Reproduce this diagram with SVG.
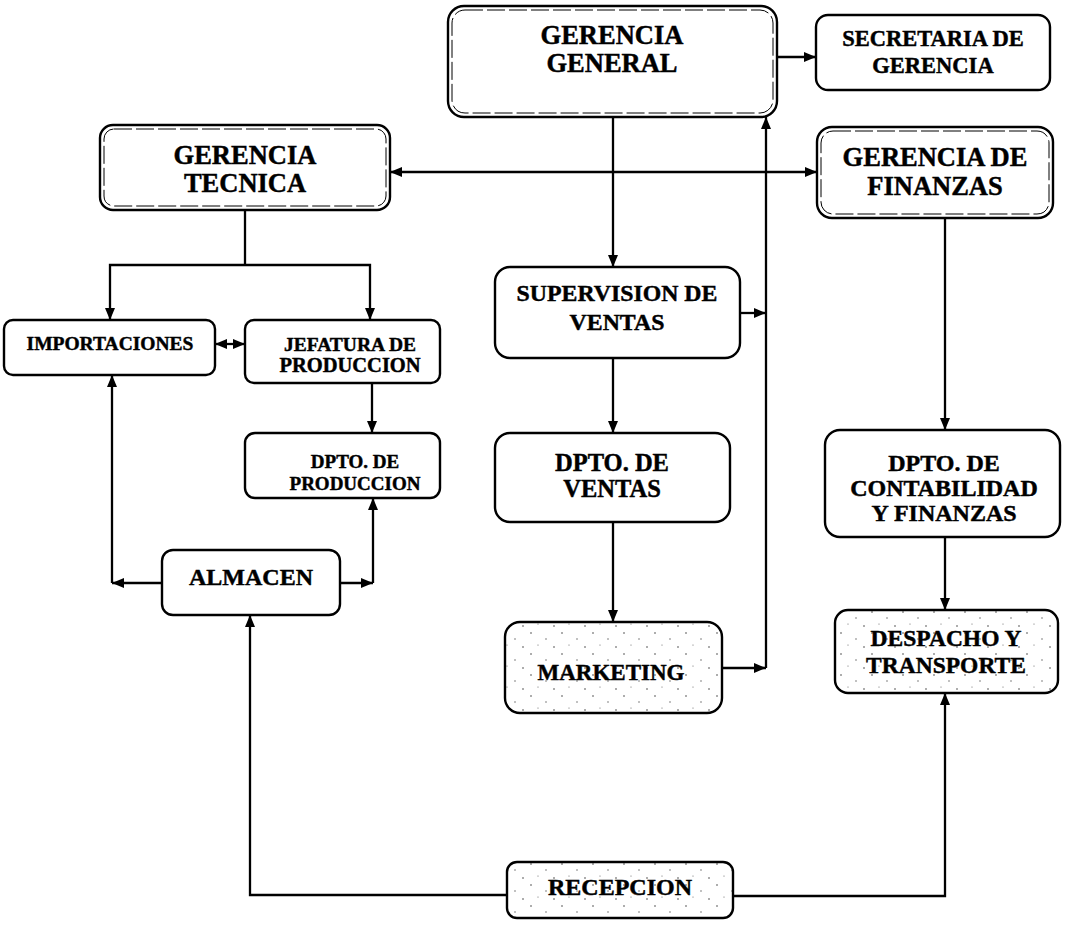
<svg xmlns="http://www.w3.org/2000/svg" width="1065" height="926" viewBox="0 0 1065 926">
<style>
.box{fill:#fff;stroke:#000;stroke-width:2.4}
.sp{fill:url(#speck);stroke:#000;stroke-width:2.4}
.inner{fill:none;stroke:#000;stroke-width:1;stroke-dasharray:18 4}
.t{font-family:"Liberation Serif","Times New Roman",serif;font-weight:bold;fill:#000;stroke:#000;stroke-width:0.45;text-anchor:middle}
.c{fill:none;stroke:#000;stroke-width:2.3}
</style>
<defs>
<marker id="ah" viewBox="0 0 12 10" refX="12" refY="5" markerWidth="12" markerHeight="10" markerUnits="userSpaceOnUse" orient="auto-start-reverse">
<path d="M0,0 L12,5 L0,10 Z" fill="#000"/>
</marker>
<pattern id="speck" width="31" height="21" patternUnits="userSpaceOnUse">
<rect width="31" height="21" fill="#fff"/>
<circle cx="4" cy="3" r="0.8" fill="#444"/>
<circle cx="19" cy="9" r="0.7" fill="#555"/>
<circle cx="27" cy="17" r="0.8" fill="#444"/>
<circle cx="11" cy="15" r="0.6" fill="#666"/>
</pattern>
</defs>
<rect width="1065" height="926" fill="#fff"/>

<g id="connectors">
<path class="c" d="M777,57 H816" marker-end="url(#ah)"/>
<path class="c" d="M390,172 H817" marker-start="url(#ah)" marker-end="url(#ah)"/>
<path class="c" d="M613,117 V267" marker-end="url(#ah)"/>
<path class="c" d="M740,313 H766" marker-end="url(#ah)"/>
<path class="c" d="M722,668 H766" marker-end="url(#ah)"/>
<path class="c" d="M766,668 V117" marker-end="url(#ah)"/>
<path class="c" d="M613,358 V433" marker-end="url(#ah)"/>
<path class="c" d="M613,522 V622" marker-end="url(#ah)"/>
<path class="c" d="M245,210 V265"/>
<path class="c" d="M110,320 V265 H370 V320" marker-start="url(#ah)" marker-end="url(#ah)"/>
<path class="c" d="M215,344 H245" marker-start="url(#ah)" marker-end="url(#ah)"/>
<path class="c" d="M372,383 V433" marker-end="url(#ah)"/>
<path class="c" d="M162,583 H112" marker-end="url(#ah)"/>
<path class="c" d="M112,583 V375" marker-end="url(#ah)"/>
<path class="c" d="M340,583 H373" marker-end="url(#ah)"/>
<path class="c" d="M373,583 V498" marker-end="url(#ah)"/>
<path class="c" d="M507,895 H250 V615" marker-end="url(#ah)"/>
<path class="c" d="M733,896 H945 V693" marker-end="url(#ah)"/>
<path class="c" d="M945,218 V430" marker-end="url(#ah)"/>
<path class="c" d="M945,537 V610" marker-end="url(#ah)"/>
</g>

<g id="gerencia-general">
<rect class="box" x="448" y="6" width="329" height="111" rx="16"/>
<rect class="inner" x="452" y="10" width="321" height="103" rx="13"/>
<text class="t" x="612" y="44" font-size="26.5">GERENCIA</text>
<text class="t" x="612" y="72" font-size="26.5">GENERAL</text>
</g>

<g id="secretaria">
<rect class="box" x="816" y="15" width="234" height="75" rx="12"/>
<text class="t" x="933" y="46" font-size="22.5">SECRETARIA DE</text>
<text class="t" x="933" y="73" font-size="22.5">GERENCIA</text>
</g>

<g id="gerencia-tecnica">
<rect class="box" x="100" y="125" width="290" height="85" rx="13"/>
<rect class="inner" x="104" y="129" width="282" height="77" rx="10"/>
<text class="t" x="245" y="164" font-size="26.5">GERENCIA</text>
<text class="t" x="245" y="192" font-size="26.5">TECNICA</text>
</g>

<g id="gerencia-finanzas">
<rect class="box" x="817" y="127" width="236" height="91" rx="15"/>
<rect class="inner" x="821" y="131" width="228" height="83" rx="12"/>
<text class="t" x="935" y="166" font-size="26.5">GERENCIA DE</text>
<text class="t" x="935" y="195" font-size="26.5">FINANZAS</text>
</g>

<g id="importaciones">
<rect class="box" x="4" y="320" width="211" height="55" rx="9"/>
<text class="t" x="110" y="350" font-size="19.5">IMPORTACIONES</text>
</g>

<g id="jefatura-produccion">
<rect class="box" x="245" y="320" width="195" height="63" rx="9"/>
<text class="t" x="350" y="351" font-size="19.5">JEFATURA DE</text>
<text class="t" x="350" y="372" font-size="20.5">PRODUCCION</text>
</g>

<g id="dpto-produccion">
<rect class="box" x="245" y="433" width="195" height="65" rx="10"/>
<text class="t" x="355" y="468" font-size="19">DPTO. DE</text>
<text class="t" x="355" y="490" font-size="19">PRODUCCION</text>
</g>

<g id="almacen">
<rect class="box" x="162" y="550" width="178" height="65" rx="11"/>
<text class="t" x="251" y="585" font-size="24">ALMACEN</text>
</g>

<g id="supervision-ventas">
<rect class="box" x="495" y="267" width="245" height="91" rx="15"/>
<text class="t" x="617" y="301" font-size="23.8">SUPERVISION DE</text>
<text class="t" x="617" y="330" font-size="23.8">VENTAS</text>
</g>

<g id="dpto-ventas">
<rect class="box" x="495" y="433" width="235" height="89" rx="15"/>
<text class="t" x="612" y="471" font-size="24.5">DPTO. DE</text>
<text class="t" x="612" y="497" font-size="24.5">VENTAS</text>
</g>

<g id="marketing">
<rect class="sp" x="505" y="622" width="217" height="91" rx="15"/>
<text class="t" x="611" y="680" font-size="23">MARKETING</text>
</g>

<g id="dpto-contabilidad">
<rect class="box" x="825" y="430" width="235" height="107" rx="15"/>
<text class="t" x="944" y="471" font-size="24">DPTO. DE</text>
<text class="t" x="944" y="496" font-size="24">CONTABILIDAD</text>
<text class="t" x="944" y="521" font-size="24">Y FINANZAS</text>
</g>

<g id="despacho-transporte">
<rect class="sp" x="835" y="610" width="223" height="83" rx="13"/>
<text class="t" x="946" y="646" font-size="23.5">DESPACHO Y</text>
<text class="t" x="946" y="673" font-size="23.5">TRANSPORTE</text>
</g>

<g id="recepcion">
<rect class="sp" x="507" y="862" width="226" height="56" rx="10"/>
<text class="t" x="620" y="895" font-size="24">RECEPCION</text>
</g>
</svg>
